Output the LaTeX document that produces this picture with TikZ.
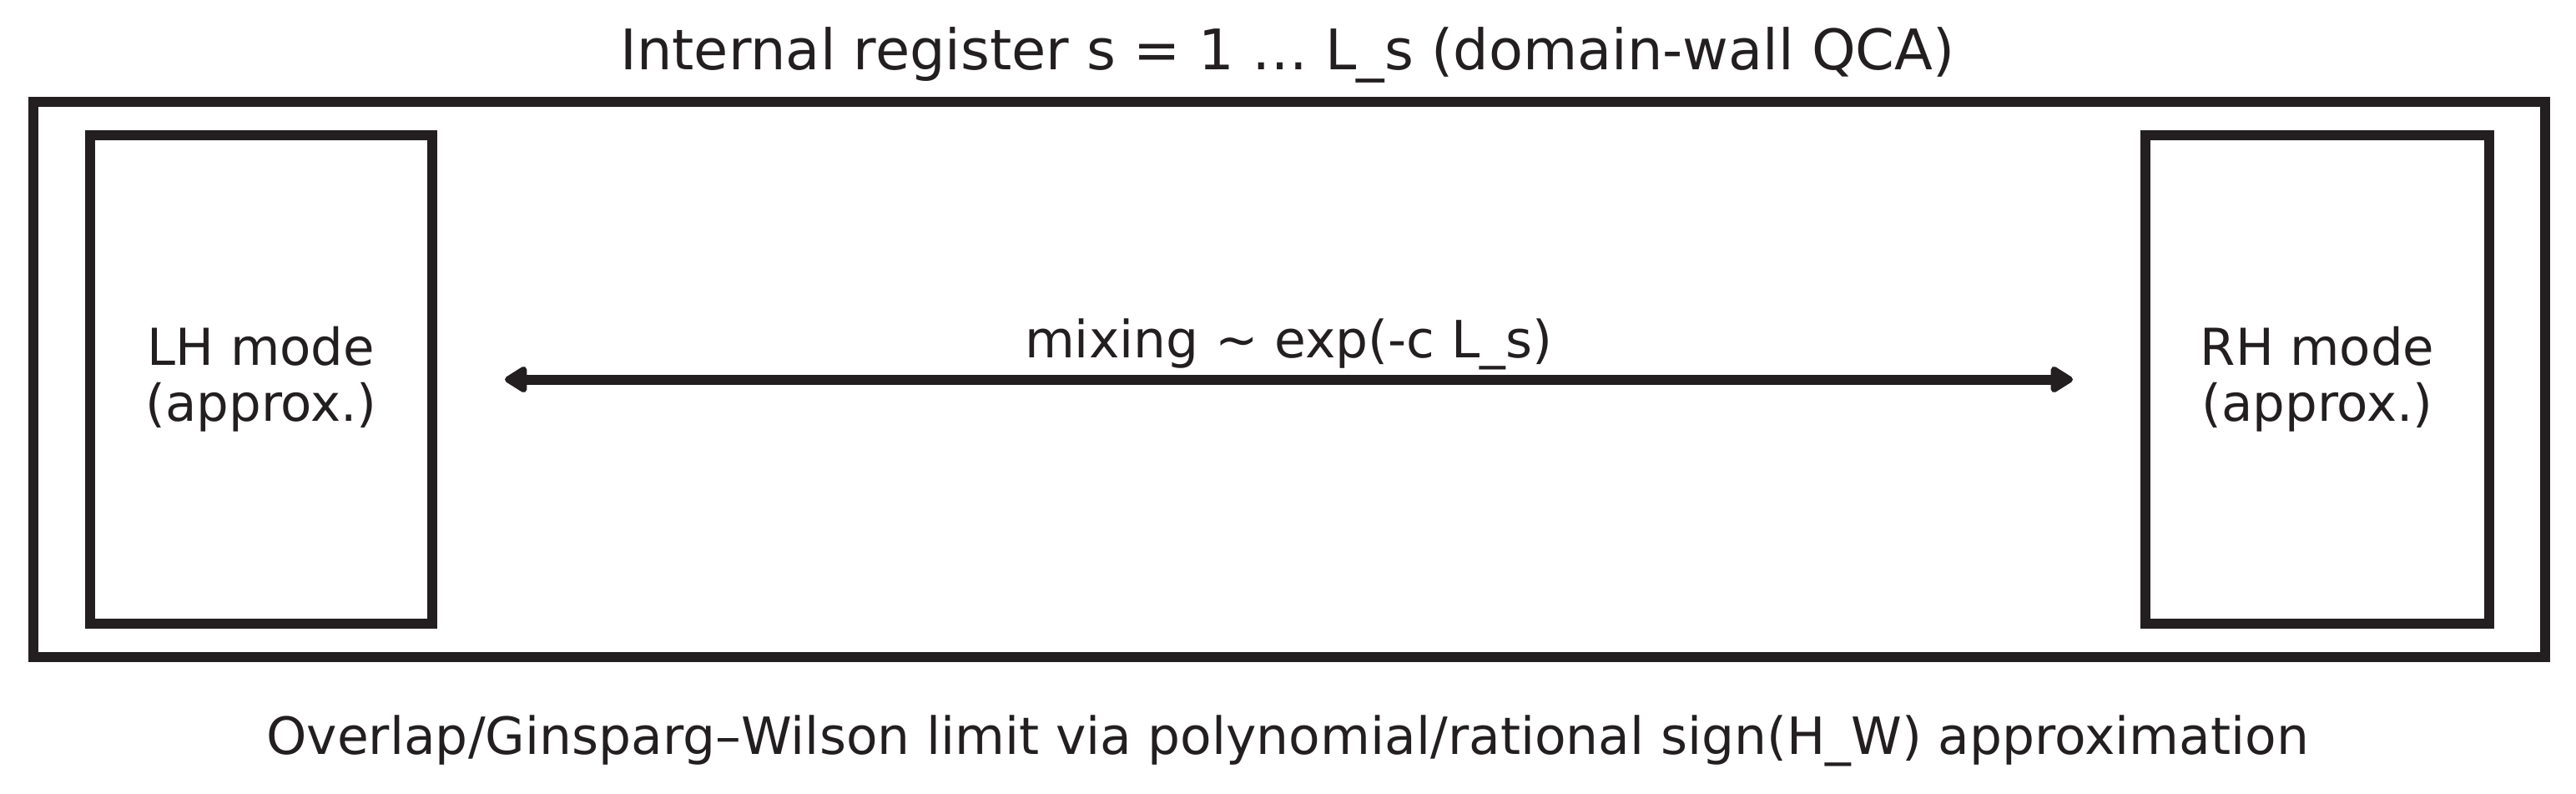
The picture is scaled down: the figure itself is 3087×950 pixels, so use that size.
\documentclass[tikz,border=0pt]{standalone}
\usepackage{fontspec}
\setmainfont{DejaVu Sans}
\usetikzlibrary{arrows.meta}
\definecolor{ink}{RGB}{35,31,32}
\begin{document}
\begin{tikzpicture}[x=0.2pt,y=-0.2pt,
  frame/.style={draw=ink,line width=2.4pt,rectangle,inner sep=0pt,outer sep=0pt},
  modebox/.style={frame,minimum width=82pt,minimum height=117pt,align=center,text=ink,
    font=\fontsize{12.2}{13.4}\selectfont},
  lbl/.style={inner sep=0pt,outer sep=0pt,anchor=base,text=ink,font=\fontsize{12.3}{13.4}\selectfont},
  biarrow/.style={draw=ink,line width=2.4pt,{Triangle[length=6pt,width=7pt,round]}-{Triangle[length=6pt,width=7pt,round]}}
]
\path[use as bounding box] (0,0) rectangle (3087,950);
\node[frame,minimum width=602pt,minimum height=133pt] (outer) at (1545,454.5) {};
\node[modebox] (lh) at (313,454.5) {LH mode\\(approx.)};
\node[modebox,minimum width=82.4pt] (rh) at (2777,454.5) {RH mode\\(approx.)};
\node[lbl,font=\fontsize{13.4}{16}\selectfont] (title) at (1543,83) {Internal register s = 1 … L\_s (domain-wall QCA)};
\node[lbl] (mix) at (1544,428) {mixing \textasciitilde{} exp(-c L\_s)};
\node[lbl] (note) at (1543,903) {Overlap/Ginsparg–Wilson limit via polynomial/rational sign(H\_W) approximation};
\draw[biarrow] ([xshift=17.4pt]lh.east) -- ([xshift=-17.4pt]rh.west);
\end{tikzpicture}
\end{document}
